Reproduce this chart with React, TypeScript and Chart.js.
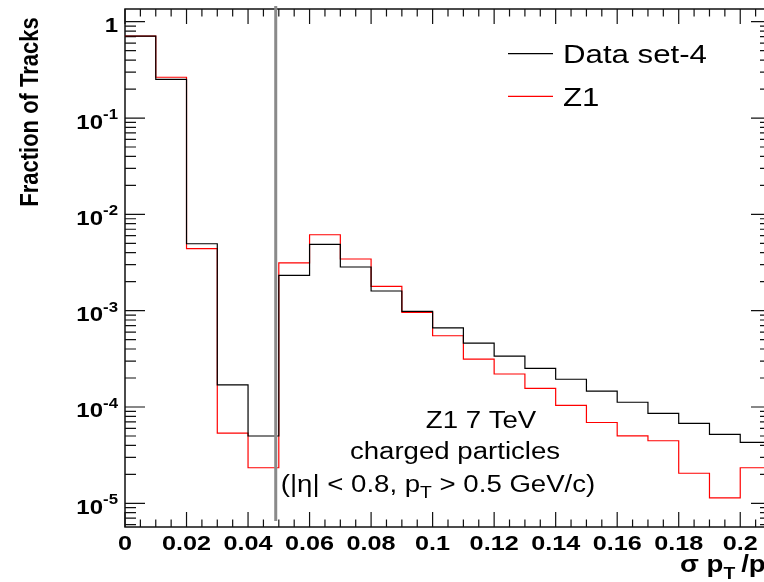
import React, { useEffect, useRef } from "react";
import { Chart, registerables } from "chart.js";

Chart.register(...registerables);

// Bin edges of sigma(pT)/pT (0.01 wide); the last entry closes the final bin
const binEdges = [
  0, 0.01, 0.02, 0.03, 0.04, 0.05, 0.06, 0.07, 0.08, 0.09, 0.1,
  0.11, 0.12, 0.13, 0.14, 0.15, 0.16, 0.17, 0.18, 0.19, 0.2, 0.21,
];

// Fraction of tracks per bin
const dataSet4 = [
  0.71, 0.252, 4.95e-3, 1.7e-4, 5.0e-5, 2.33e-3, 4.88e-3, 2.84e-3, 1.6e-3,
  9.84e-4, 6.64e-4, 4.61e-4, 3.38e-4, 2.52e-4, 1.94e-4, 1.46e-4, 1.12e-4,
  8.6e-5, 6.76e-5, 5.2e-5, 4.3e-5,
];
const z1 = [
  0.71, 0.265, 4.4e-3, 5.36e-5, 2.34e-5, 3.14e-3, 6.14e-3, 3.44e-3, 1.79e-3,
  9.6e-4, 5.49e-4, 3.14e-4, 2.2e-4, 1.56e-4, 1.04e-4, 6.9e-5, 5.02e-5,
  4.46e-5, 2.05e-5, 1.14e-5, 2.34e-5,
];

const seriesLabels = ["Data set-4", "Z1"];
const seriesColors = ["#000000", "#ff0000"];

// Vertical cut marker
const cutX = 0.049;
const cutYTop = 1.455;
const cutYBottom = 6.55e-6;

// Axis ranges and ticks
const xMin = 0;
const xMax = 0.21;
const yMin = 5.675e-6;
const yMax = 1.355;
const xMajorTicks = [0, 0.02, 0.04, 0.06, 0.08, 0.1, 0.12, 0.14, 0.16, 0.18, 0.2];
const xTickLabels = ["0", "0.02", "0.04", "0.06", "0.08", "0.1", "0.12", "0.14", "0.16", "0.18", "0.2"];
const yMajorTicks = [1, 1e-1, 1e-2, 1e-3, 1e-4, 1e-5];
const yTickLabels = ["1", "10^-1", "10^-2", "10^-3", "10^-4", "10^-5"];

const xTitle = "σ p_T/p_T";
const yTitle = "Fraction of Tracks";
const infoLines = ["Z1 7 TeV", "charged particles", "(|η| < 0.8, p_T > 0.5 GeV/c)"];

const FAMILY = '"Liberation Sans", Arial, Helvetica, sans-serif';
const STRETCH = 1.2;

type Part = { t: string; kind: "n" | "sup" | "sub" };

function parseRich(s: string): Part[] {
  const parts: Part[] = [];
  const re = /(\^[^\s]+|_\w)/g;
  let last = 0;
  let m: RegExpExecArray | null;
  while ((m = re.exec(s))) {
    if (m.index > last) parts.push({ t: s.slice(last, m.index), kind: "n" });
    parts.push({ t: m[0].slice(1), kind: m[0][0] === "^" ? "sup" : "sub" });
    last = m.index + m[0].length;
  }
  if (last < s.length) parts.push({ t: s.slice(last), kind: "n" });
  return parts;
}

function fontFor(size: number, bold: boolean) {
  return `${bold ? "bold " : ""}${size}px ${FAMILY}`;
}

// Draws text with super/subscripts, stretched horizontally
function drawRich(
  ctx: CanvasRenderingContext2D,
  text: string,
  x: number,
  y: number,
  size: number,
  bold: boolean,
  align: "left" | "center" | "right",
  rotate = false,
  subGap = 0
) {
  const parts = parseRich(text);
  const small = size * 0.7;
  let w = 0;
  const widths = parts.map((p, i) => {
    ctx.font = fontFor(p.kind === "n" ? size : small, bold);
    let pw = ctx.measureText(p.t).width;
    if (p.kind === "sub" && i < parts.length - 1) pw += subGap;
    w += pw;
    return pw;
  });
  ctx.save();
  ctx.translate(x, y);
  if (rotate) {
    ctx.rotate(-Math.PI / 2);
    ctx.scale(1, STRETCH);
  } else {
    ctx.scale(STRETCH, 1);
  }
  let cx = align === "left" ? 0 : align === "center" ? -w / 2 : -w;
  ctx.textBaseline = "alphabetic";
  ctx.textAlign = "left";
  parts.forEach((p, i) => {
    ctx.font = fontFor(p.kind === "n" ? size : small, bold);
    const dy = p.kind === "sup" ? -size * 0.47 : p.kind === "sub" ? size * 0.3 : 0;
    ctx.fillText(p.t, cx, dy);
    cx += widths[i];
  });
  ctx.restore();
}

const framePlugin = {
  id: "frameAndText",
  beforeDatasetsDraw(chart: any) {
    const { ctx, chartArea: a, scales } = chart;
    const xs = scales.x;
    const ys = scales.y;
    ctx.save();
    ctx.strokeStyle = "#111";
    ctx.lineWidth = 1.5;
    ctx.strokeRect(a.left, a.top, a.right - a.left, a.bottom - a.top);

    ctx.lineWidth = 1.2;
    ctx.beginPath();
    for (let e = -6; e <= 0; e++) {
      for (let k = 1; k <= 9; k++) {
        const v = k * Math.pow(10, e);
        if (v < yMin || v > yMax) continue;
        const len = k === 1 ? 20 : 11;
        const py = ys.getPixelForValue(v);
        ctx.moveTo(a.left, py);
        ctx.lineTo(a.left + len, py);
        ctx.moveTo(a.right, py);
        ctx.lineTo(a.right - len, py);
      }
    }
    for (let i = 0; i * 0.005 <= xMax + 1e-9; i++) {
      const v = i * 0.005;
      const len = i % 4 === 0 ? 15 : 7.5;
      const px = xs.getPixelForValue(v);
      ctx.moveTo(px, a.bottom);
      ctx.lineTo(px, a.bottom - len);
      ctx.moveTo(px, a.top);
      ctx.lineTo(px, a.top + len);
    }
    ctx.stroke();
    ctx.restore();
  },
  afterDraw(chart: any) {
    const { ctx, chartArea: a, scales } = chart;
    const xs = scales.x;
    const ys = scales.y;
    ctx.save();
    ctx.fillStyle = "#000";

    // Tick labels
    yMajorTicks.forEach((v, i) => {
      drawRich(ctx, yTickLabels[i], 118, ys.getPixelForValue(v) + 10.5, 20, true, "right");
    });
    xMajorTicks.forEach((v, i) => {
      drawRich(ctx, xTickLabels[i], xs.getPixelForValue(v), a.bottom + 22.5, 21, true, "center");
    });

    // Axis titles
    drawRich(ctx, xTitle, 680, a.bottom + 45, 23, true, "left", false, 5);
    drawRich(ctx, yTitle, 38, 112, 22, true, "center", true);

    // Legend
    const ds = chart.data.datasets;
    [1, 2].forEach((di, row) => {
      const ly = row === 0 ? 53.7 : 96.3;
      ctx.strokeStyle = ds[di].borderColor;
      ctx.lineWidth = 1.2;
      ctx.beginPath();
      ctx.moveTo(508, ly);
      ctx.lineTo(553, ly);
      ctx.stroke();
      ctx.fillStyle = "#000";
      drawRich(ctx, ds[di].label, 563, ly + 9.3, 26, false, "left");
    });

    // Info text
    const centers = [481, 455, 438];
    const baselines = [428.3, 459.3, 491.5];
    infoLines.forEach((line, i) => {
      drawRich(ctx, line, centers[i], baselines[i], 23, false, "center");
    });
    ctx.restore();
  },
};

function histPoints(values: number[]) {
  return binEdges.map((edge, i) => ({ x: edge, y: values[Math.min(i, values.length - 1)] }));
}

export default function App() {
  const canvasRef = useRef<HTMLCanvasElement | null>(null);

  useEffect(() => {
    const canvas = canvasRef.current;
    if (!canvas) return;
    const chart = new Chart(canvas, {
      type: "line",
      data: {
        datasets: [
          {
            label: "cut",
            data: [
              { x: cutX, y: cutYTop },
              { x: cutX, y: cutYBottom },
            ],
            borderColor: "#8a8a8a",
            borderWidth: 3,
            pointRadius: 0,
            clip: false as any,
          },
          {
            label: seriesLabels[0],
            data: histPoints(dataSet4),
            borderColor: seriesColors[0],
            borderWidth: 1.2,
            pointRadius: 0,
            stepped: "before",
            fill: false,
          },
          {
            label: seriesLabels[1],
            data: histPoints(z1),
            borderColor: seriesColors[1],
            borderWidth: 1.2,
            pointRadius: 0,
            stepped: "before",
            fill: false,
          },
        ],
      },
      options: {
        responsive: false,
        animation: false,
        events: [],
        layout: { padding: { left: 125, top: 9, right: 1, bottom: 55 } },
        scales: {
          x: { type: "linear", min: xMin, max: xMax, display: false },
          y: { type: "logarithmic", min: yMin, max: yMax, display: false },
        },
        plugins: {
          legend: { display: false },
          tooltip: { enabled: false },
        },
      },
      plugins: [framePlugin],
    });
    return () => chart.destroy();
  }, []);

  return (
    <div
      style={{
        position: "absolute",
        left: 0,
        top: 0,
        width: 764,
        height: 582,
        overflow: "hidden",
        background: "#fff",
      }}
    >
      <canvas ref={canvasRef} width={772} height={582} style={{ display: "block" }} />
    </div>
  );
}
